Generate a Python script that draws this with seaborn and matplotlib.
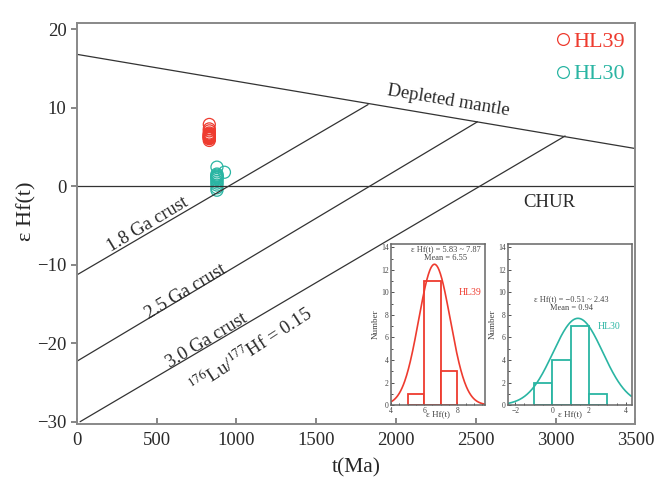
import numpy as np
import pandas as pd
import seaborn as sns
import matplotlib.pyplot as plt
from matplotlib.lines import Line2D
from matplotlib.ticker import MultipleLocator

# zircon epsilon Hf(t) values
hl39_eps = [5.83, 6.05, 6.10, 6.18, 6.24, 6.30, 6.36, 6.42, 6.50, 6.58, 6.66, 6.78, 7.05, 7.30, 7.87]
hl39_age = [830] * 15
hl30_eps = [-0.51, -0.20, 0.15, 0.40, 0.62, 0.85, 1.05, 1.12, 1.20, 1.30, 1.42, 1.55, 1.78, 2.43]
hl30_age = [878] * 12 + [925, 878]

# reference evolution lines (t in Ma, eps Hf)
dm_t = [0, 3500]
dm_eps = [16.8, 4.8]
crust_t = {"1.8": [0, 1825], "2.5": [0, 2510], "3.0": [20, 3060]}
crust_eps = {"1.8": [-11.3, 10.4], "2.5": [-22.3, 8.2], "3.0": [-30.0, 6.4]}

# fitted curves: centre, sigma, peak height
hl39_fit = (6.62, 0.95, 12.5)
hl30_fit = (1.40, 1.35, 7.7)

red = "#ee3b2f"
cyan = "#2ab5a3"
ink = "#2a2a2a"

sns.set_theme(style="ticks")
plt.rcParams["font.family"] = ["Liberation Serif", "DejaVu Serif"]
plt.rcParams["mathtext.fontset"] = "stix"
plt.rcParams["text.color"] = ink

fig = plt.figure(figsize=(6.57, 4.88), dpi=100)
ax = fig.add_axes([0.117, 0.131, 0.850, 0.822])

sns.lineplot(x=dm_t, y=dm_eps, ax=ax, color="#333333", lw=0.9)
sns.lineplot(x=[0, 3500], y=[0, 0], ax=ax, color="#333333", lw=0.9)
for k in crust_t:
    sns.lineplot(x=crust_t[k], y=crust_eps[k], ax=ax, color="#333333", lw=0.9)

for t, e, c in [(hl39_age, hl39_eps, red), (hl30_age, hl30_eps, cyan)]:
    sns.scatterplot(x=t, y=e, ax=ax, s=75, marker="o")
    pts = ax.collections[-1]
    pts.set_facecolor("none")
    pts.set_edgecolor(c)
    pts.set_linewidth(0.9)

ax.set_xlim(0, 3500)
ax.set_ylim(-30.3, 20.8)
ax.set_xticks(range(0, 3501, 500))
ax.set_yticks(range(-30, 21, 10))
ax.set_yticklabels(["\u221230", "\u221220", "\u221210", "0", "10", "20"])
ax.tick_params(axis="x", direction="in", labelsize=13.5, length=4, color="#777777", pad=6,
               labelcolor=ink)
ax.tick_params(axis="y", direction="out", labelsize=13.5, length=4, color="#777777",
               labelcolor=ink)
for s in ax.spines.values():
    s.set_color("#888888")
    s.set_linewidth(1.4)
ax.set_xlabel("t(Ma)", fontsize=15.5, labelpad=6)
ax.set_ylabel("\u03b5 Hf(t)", fontsize=16)
ax.yaxis.set_label_coords(-0.072, 0.53)

ax.text(2330, 10.9, "Depleted mantle", fontsize=13.5, rotation=-9.5, ha="center", va="center")
ax.text(2960, -2.1, "CHUR", fontsize=13.5, ha="center", va="center")
ax.text(445, -4.9, "1.8 Ga crust", fontsize=13.5, rotation=31, ha="center", va="center")
ax.text(680, -13.4, "2.5 Ga crust", fontsize=13.5, rotation=31, ha="center", va="center")
ax.text(816, -19.7, "3.0 Ga crust", fontsize=13.5, rotation=31, ha="center", va="center")
ax.text(1090, -20.9, "$^{176}$Lu/$^{177}$Hf = 0.15", fontsize=13.5, rotation=33,
        ha="center", va="center")

handles = [Line2D([], [], marker="o", ls="", mfc="none", mec=red, ms=8.5, mew=0.9),
           Line2D([], [], marker="o", ls="", mfc="none", mec=cyan, ms=8.5, mew=0.9)]
leg = ax.legend(handles, ["HL39", "HL30"], loc="upper right", frameon=False, fontsize=16,
                handlelength=0.6, handletextpad=0.15, labelspacing=0.55,
                bbox_to_anchor=(1.005, 1.013), borderaxespad=0.2)
for txt, c in zip(leg.get_texts(), [red, cyan]):
    txt.set_color(c)


def inset(rect, vals, bins, fit, color, xlim, xticks, xticklabels, note, tag, tag_xy, note_xy):
    a = fig.add_axes(rect)
    sns.histplot(x=vals, bins=bins, ax=a, fill=True, color="white", edgecolor=color,
                 linewidth=1.3, alpha=1)
    mu, sd, peak = fit
    xs = np.linspace(xlim[0] + 0.05, xlim[1] - 0.05, 200)
    sns.lineplot(x=xs, y=peak * np.exp(-0.5 * ((xs - mu) / sd) ** 2), ax=a, color=color, lw=1.2)
    a.set_xlim(*xlim)
    a.set_ylim(0, 14.3)
    a.set_xticks(xticks)
    a.set_xticklabels(xticklabels)
    a.xaxis.set_minor_locator(MultipleLocator(0.5))
    a.set_yticks(range(0, 15, 2))
    a.yaxis.set_minor_locator(MultipleLocator(1))
    a.tick_params(which="both", direction="in", labelsize=5.5, length=2, width=0.6, pad=1.5,
                  color="#333333", labelcolor="#444444")
    a.tick_params(which="minor", length=1.2)
    for s in a.spines.values():
        s.set_color("#666666")
        s.set_linewidth(1.1)
    a.set_xlabel("\u03b5 Hf(t)", fontsize=6.5, labelpad=-3.5, color="#444444")
    a.set_ylabel("Number", fontsize=6.5, labelpad=1, color="#444444")
    a.text(note_xy[0], note_xy[1], note, fontsize=6, ha="center", va="top",
           transform=a.transAxes, linespacing=1.25, color="#444444")
    a.text(tag_xy[0], tag_xy[1], tag, fontsize=7, color=color, transform=a.transAxes,
           ha="left", va="center")
    return a


inset([0.595, 0.170, 0.143, 0.330], hl39_eps, [5, 6, 7, 8], hl39_fit, red,
      (4, 9.65), [4, 6, 8], ["4", "6", "8"],
      "\u03b5 Hf(t) = 5.83 ~ 7.87\nMean = 6.55", "HL39", (0.72, 0.70), (0.585, 0.995))
inset([0.773, 0.170, 0.189, 0.330], hl30_eps, [-1, 0, 1, 2, 3], hl30_fit, cyan,
      (-2.4, 4.33), [-2, 0, 2, 4], ["\u22122", "0", "2", "4"],
      "\u03b5 Hf(t) = \u22120.51 ~ 2.43\nMean = 0.94", "HL30", (0.72, 0.49), (0.51, 0.685))

fig.savefig("out.png", dpi=100)
